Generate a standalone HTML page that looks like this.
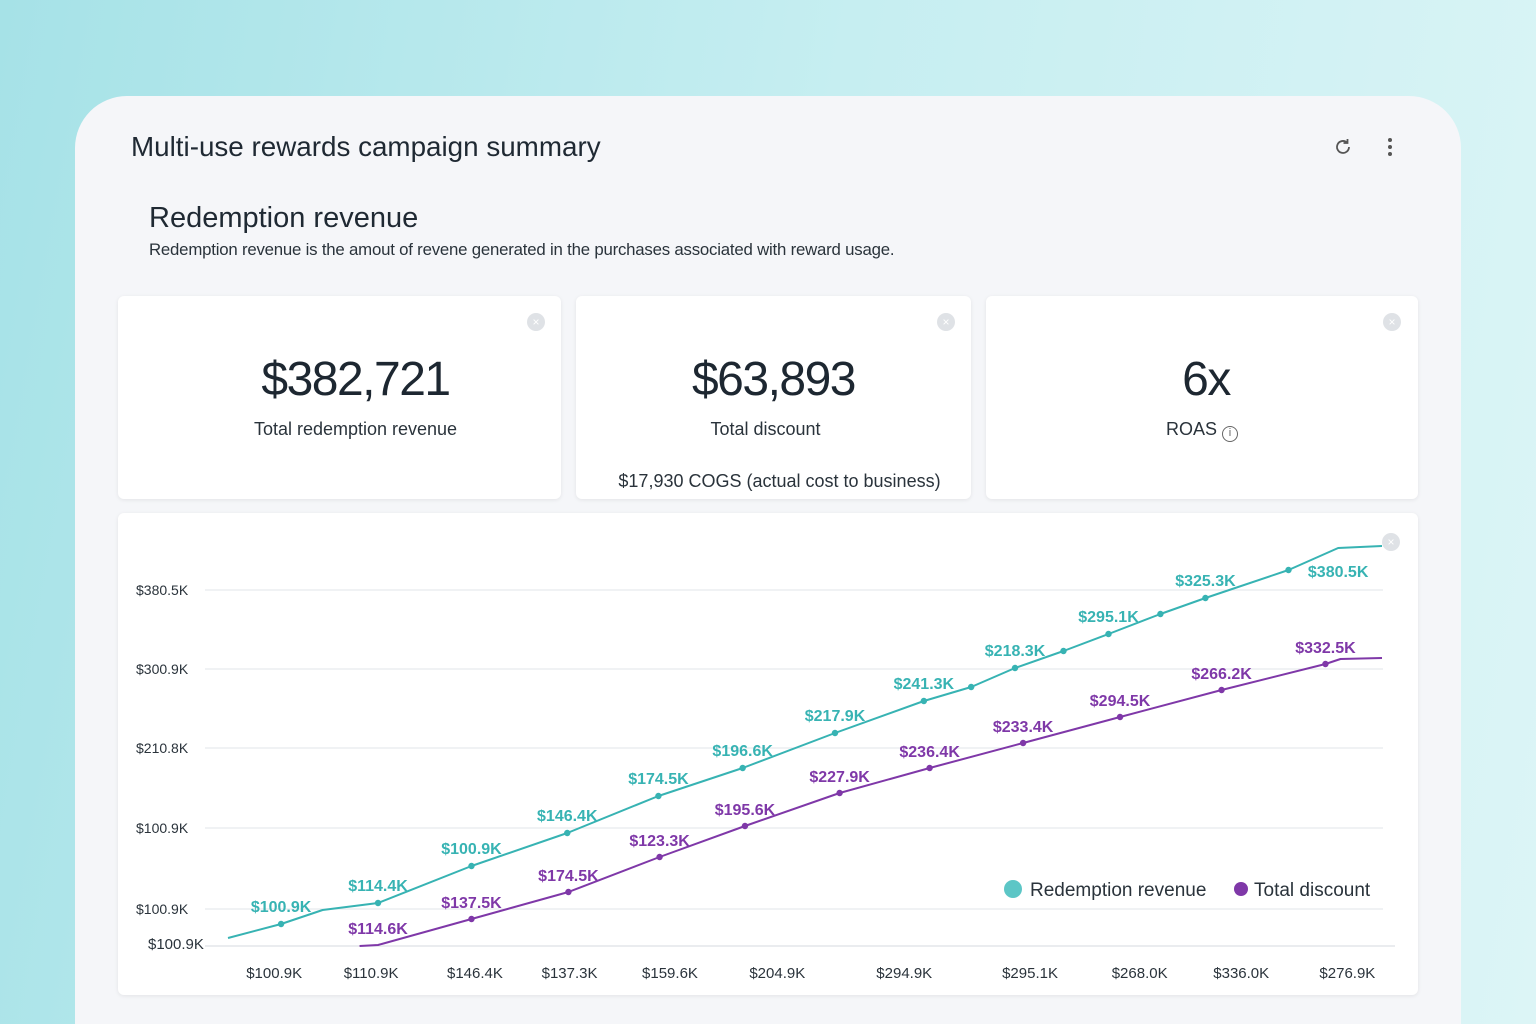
<!DOCTYPE html>
<html><head><meta charset="utf-8">
<style>
*{margin:0;padding:0;box-sizing:border-box}
html,body{width:1536px;height:1024px;overflow:hidden}
body{font-family:"Liberation Sans",sans-serif;background:linear-gradient(100deg,#a6e2e7 0%,#c6eef1 50%,#dcf5f6 100%);position:relative;color:#1f2a33}
.panel{position:absolute;left:75px;top:96px;width:1386px;height:928px;background:#f5f6f9;border-radius:52px 52px 0 0}
.abs{position:absolute}
.card{position:absolute;background:#fff;border-radius:6px;box-shadow:0 1px 4px rgba(0,0,0,.08)}
.x{position:absolute;width:18px;height:18px;border-radius:50%;background:#dfe2e6;color:#fff;font-size:12px;text-align:center;line-height:18px}
.big{position:absolute;width:100%;text-align:center;font-size:48px;color:#1d2731;letter-spacing:-1.5px}
.lbl{position:absolute;width:100%;text-align:center;font-size:18px;color:#2a333b}
</style></head><body>
<div class="panel"></div>
<div class="abs" style="left:131px;top:131px;font-size:27.8px;color:#1f2933">Multi-use rewards campaign summary</div>
<svg class="abs" style="left:1332px;top:136px" width="22" height="22" viewBox="0 0 22 22"><path d="M17 11a6 6 0 1 1-2-4.5" fill="none" stroke="#555" stroke-width="1.8"/><path d="M15.5 3v4h-4" fill="none" stroke="#555" stroke-width="1.8"/></svg>
<div class="abs" style="left:1388px;top:138px;width:5px"><div style="width:4px;height:4px;border-radius:50%;background:#555;margin-bottom:3px"></div><div style="width:4px;height:4px;border-radius:50%;background:#555;margin-bottom:3px"></div><div style="width:4px;height:4px;border-radius:50%;background:#555"></div></div>
<div class="abs" style="left:149px;top:202px;font-size:29px;color:#1f2933">Redemption revenue</div>
<div class="abs" style="left:149px;top:240px;font-size:16.8px;color:#2a333b;letter-spacing:-.2px">Redemption revenue is the amout of revene generated in the purchases associated with reward usage.</div>

<div class="card" style="left:118px;top:296px;width:443px;height:203px">
<div class="x" style="left:409px;top:17px">×</div>
<div class="big" style="top:56px;left:16px">$382,721</div>
<div class="lbl" style="left:16px;top:123px">Total redemption revenue</div></div>
<div class="card" style="left:576px;top:296px;width:395px;height:203px">
<div class="x" style="left:361px;top:17px">×</div>
<div class="big" style="top:56px">$63,893</div>
<div class="lbl" style="left:-8px;top:123px">Total discount</div>
<div class="lbl" style="left:6px;top:175px">$17,930 COGS (actual cost to business)</div></div>
<div class="card" style="left:986px;top:296px;width:432px;height:203px">
<div class="x" style="left:397px;top:17px">×</div>
<div class="big" style="top:56px;left:4px">6x</div>
<div class="lbl" style="top:123px">ROAS <span style="display:inline-block;width:16px;height:16px;border:1.5px solid #666;border-radius:50%;font-size:11px;line-height:13px;vertical-align:-1px;color:#666">i</span></div></div>

<div class="card" style="left:118px;top:513px;width:1300px;height:482px">
<div class="x" style="left:1264px;top:20px">×</div></div>
<svg id="chart" class="abs" style="left:0;top:0" width="1536" height="1024"></svg>

<script>
const tealT=[0,4.6,8.2,13.0,21.1,29.4,37.3,44.6,52.6,60.3,64.4,68.2,72.4,76.3,80.8,84.7,91.9,96.2,100];
const tealV=[8,22,36,43,80,113,150,178,213,245,259,278,295,312,332,348,376,398,400];
const tealMarkers=[1,3,4,5,6,7,8,9,10,11,12,13,14,15,16];
const tealLabelIdx=[1,3,4,5,6,7,8,9,11,13,15,17];
const tealLabels=["$100.9K","$114.4K","$100.9K","$146.4K","$174.5K","$196.6K","$217.9K","$241.3K","$218.3K","$295.1K","$325.3K","$380.5K"];
const purpT=[11.4,13.0,21.1,29.5,37.4,44.8,53.0,60.8,68.9,77.3,86.1,95.1,96.4,100];
const purpV=[0,1,27,54,89,120,153,178,203,229,256,282,287,288];
const purpMarkers=[2,3,4,5,6,7,8,9,10,11];
const purpLabelIdx=[1,2,3,4,5,6,7,8,9,10,11];
const purpLabels=["$114.6K","$137.5K","$174.5K","$123.3K","$195.6K","$227.9K","$236.4K","$233.4K","$294.5K","$266.2K","$332.5K"];
const yTickVals=[37,118,198,277,356];
const yTickLabels=["$100.9K","$100.9K","$210.8K","$300.9K","$380.5K"];
const xTickT=[4,12.4,21.4,29.6,38.3,47.6,58.6,69.5,79,87.8,97];
const xTickLabels=["$100.9K","$110.9K","$146.4K","$137.3K","$159.6K","$204.9K","$294.9K","$295.1K","$268.0K","$336.0K","$276.9K"];

const X0=228,X1=1382,Y0=946;
const xs=t=>X0+t*(X1-X0)/100;
const ys=v=>Y0-v;
const svg=document.getElementById('chart');
const NS='http://www.w3.org/2000/svg';
function mk(tag,attrs,parent){const e=document.createElementNS(NS,tag);for(const k in attrs)e.setAttribute(k,attrs[k]);(parent||svg).appendChild(e);return e;}

yTickVals.forEach((v,i)=>{
  const g=mk('line',{x1:205,x2:1383,y1:ys(v),y2:ys(v),stroke:'#e8eaee','stroke-width':1.2});
  
  
  const t=mk('text',{x:136,y:ys(v)+5,'font-size':14,fill:'#2a333b'});
  t.textContent=yTickLabels[i];
  
  
});
const ax=mk('line',{x1:205,x2:1395,y1:Y0,y2:Y0,stroke:'#e3e5ea','stroke-width':1.5});


const bl=mk('text',{x:148,y:Y0+3,'font-size':15,fill:'#2a333b'});
bl.textContent='$100.9K';


xTickT.forEach((t,i)=>{
  const e=mk('text',{x:xs(t),y:978,'font-size':15,fill:'#2a333b','text-anchor':'middle'});
  e.textContent=xTickLabels[i];
  
  
});

function series(T,V,markers,lidx,labels,color,name,dys){
  const p=mk('polyline',{points:T.map((t,i)=>xs(t)+','+ys(V[i])).join(' '),fill:'none',stroke:color,'stroke-width':2,'stroke-linejoin':'round'});
  
  
  markers.forEach(i=>{
    const c=mk('circle',{cx:xs(T[i]),cy:ys(V[i]),r:3.2,fill:color});
    
    
  });
  lidx.forEach((i,k)=>{
    const t=mk('text',{x:xs(T[i]),y:ys(V[i])+dys(k),'font-size':16,'font-weight':'bold',fill:color,'text-anchor':'middle'});
    t.textContent=labels[k];
    
    
  });
}
series(tealT,tealV,tealMarkers,tealLabelIdx,tealLabels,'#37b3b3','redemption-revenue',k=>k===11?29:-12);
series(purpT,purpV,purpMarkers,purpLabelIdx,purpLabels,'#7f38a8','total-discount',k=>-11);

const lg=mk('g',{});


const c1=mk('circle',{cx:1013,cy:889,r:9,fill:'#5cc6c6'},lg);


const t1=mk('text',{x:1030,y:896,'font-size':19,fill:'#2a333b'},lg);
t1.textContent='Redemption revenue';


const c2=mk('circle',{cx:1241,cy:889,r:7,fill:'#7f38a8'},lg);


const t2=mk('text',{x:1254,y:896,'font-size':19,fill:'#2a333b'},lg);
t2.textContent='Total discount';


</script>
</body></html>
